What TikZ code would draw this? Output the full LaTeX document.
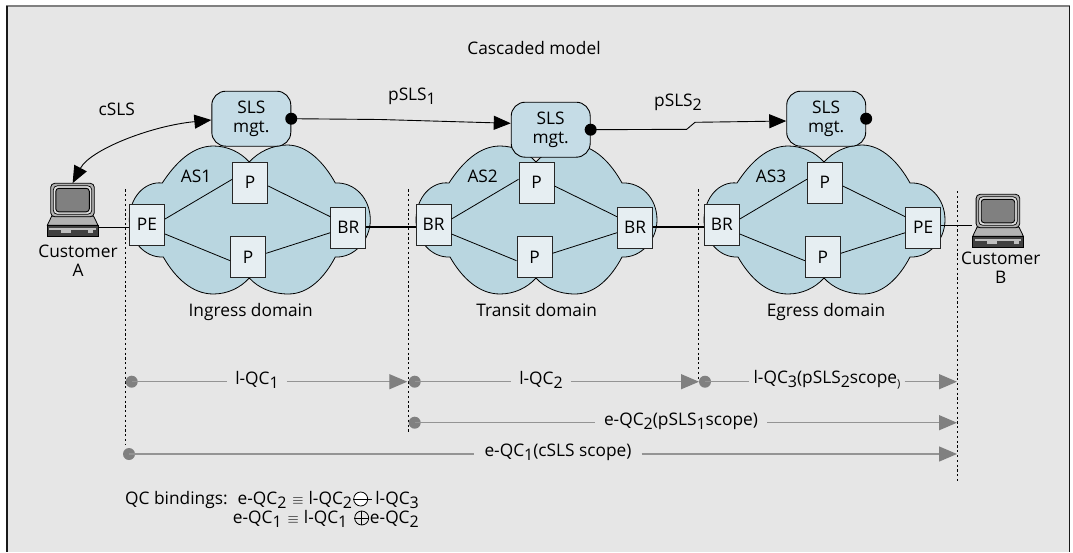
\documentclass[tikz,border=0pt]{standalone}
\usepackage{fontspec}
\setmainfont{Open Sans}
\usetikzlibrary{arrows.meta,calc}
\definecolor{framefill}{HTML}{E6E6E6}
\definecolor{cloudfill}{HTML}{B9D6E0}
\definecolor{boxfill}{HTML}{E6EEF2}
\definecolor{slsfill}{HTML}{C5DCE6}
\definecolor{scopegray}{HTML}{808080}
\definecolor{scopeline}{HTML}{949494}
\newcommand{\sbs}[1]{\raisebox{-4pt}{\fontsize{16}{16}\selectfont #1}}
\newcommand{\eqv}{\hspace{6pt}\raisebox{0pt}{\fontsize{14}{14}\selectfont$\equiv$}\hspace{5pt}}
\tikzset{
  x=1pt,y=-1pt,
  every node/.style={font=\fontsize{17.3}{19}\selectfont,inner sep=0pt},
  router/.style={draw=black!85,line width=1pt,fill=boxfill,minimum width=35pt,minimum height=41pt},
  slsbox/.style={draw=black,line width=.9pt,fill=slsfill,rounded corners=14pt,minimum width=79pt,minimum height=55pt,align=center},
  blackdot/.style={circle,fill=black,minimum size=12pt},
  graydot/.style={circle,fill=scopegray,minimum size=12pt},
  thinlink/.style={draw=black,line width=.8pt},
  corelink/.style={draw=black,line width=2pt},
  signal/.style={draw=black,line width=.9pt,-{Triangle[length=17pt,width=14pt]}},
  scopeseg/.style={draw=scopeline,line width=1.3pt},
  scopearrow/.style={draw=scopeline,line width=1.3pt,-{Triangle[length=18pt,width=15pt,color=scopegray]}},
  boundary/.style={draw=black,line width=1pt,dash pattern=on 2.2pt off 2.6pt},
  opcircle/.style={circle,draw=black,line width=.8pt,fill=white,minimum size=14pt},
  cloudshape/.pic={
    \draw[fill=cloudfill,line width=.8pt] (0,162) .. controls (-9,152) and (-22,146) .. (-36,146)
      .. controls (-57,146) and (-74,163) .. (-87,183)
      .. controls (-105,181) and (-120,198) .. (-120,220)
      .. controls (-120,240) and (-105,258) .. (-86,257)
      .. controls (-74,278) and (-57,294) .. (-36,294)
      .. controls (-22,294) and (-9,288) .. (0,278)
      .. controls (9,288) and (23,294) .. (39,294)
      .. controls (59,294) and (75,278) .. (86,257)
      .. controls (105,258) and (121,240) .. (121,220)
      .. controls (121,198) and (105,182) .. (86,183)
      .. controls (75,163) and (58,145) .. (38,145)
      .. controls (23,145) and (9,152) .. (0,162) -- cycle;
  },
  computer/.pic={
    \draw[fill=black!30,line width=.8pt] (4.3,33) -- (46.4,33) -- (50.7,42) -- (0,42) -- cycle;
    \draw[fill=black!75,line width=.8pt] (0,42) rectangle (50.7,53.4);
    \fill[black!25] (2,45) rectangle (48.7,47);
    \fill[black!25] (14,47) rectangle (24,50);
    \fill[black!25] (41,47) rectangle (46,50);
    \draw[fill=black!30,line width=.8pt,rounded corners=4pt] (3.4,0) rectangle (47,33.4);
    \draw[fill=black!12,line width=.7pt,rounded corners=4pt] (6,2.5) rectangle (44.5,31);
    \draw[fill=black!50,line width=.9pt,rounded corners=3pt] (8.5,5) rectangle (42,28.5);
  }
}
\begin{document}
\begin{tikzpicture}
\useasboundingbox (0,0) rectangle (1073,552);
\fill[framefill] (7,6) rectangle (1069.5,552);
\draw[scopegray,line width=2.2pt] (6,6) -- (1070.3,6);
\draw[black!90,line width=1.5pt] (7,6) -- (7,552);
\draw[black!90,line width=1.5pt] (1069.5,6) -- (1069.5,552);

\node (title) at (534,48) {Cascaded model};

% clouds
\pic at (249.3,0) {cloudshape};
\pic at (536,0) {cloudshape};
\pic at (824,0) {cloudshape};

% routers
\node[router] (pe1) at (147,224.5) {PE};
\node[router] (pt1) at (250.2,182.8) {P};
\node[router] (pb1) at (248.2,257) {P};
\node[router] (br1) at (348.3,227.7) {BR};
\node[router] (br2) at (433.5,224.5) {BR};
\node[router] (pt2) at (536.5,182.8) {P};
\node[router] (pb2) at (534.5,257) {P};
\node[router] (br3) at (635,227.7) {BR};
\node[router] (br4) at (721.8,224.5) {BR};
\node[router] (pt3) at (824.8,182.8) {P};
\node[router] (pb3) at (822.8,257) {P};
\node[router] (pe2) at (923.2,227.7) {PE};

% internal links
\foreach \l/\t/\b/\r in {pe1/pt1/pb1/br1,br2/pt2/pb2/br3,br4/pt3/pb3/pe2}{
  \draw[thinlink] ([yshift=5.5pt]\l.east) -- ([yshift=3.5pt]\t.west);
  \draw[thinlink] ([yshift=-3.2pt]\t.east) -- ([yshift=11pt]\r.west);
  \draw[thinlink] ([yshift=-9.5pt]\l.east) -- ([yshift=-3.7pt]\b.west);
  \draw[thinlink] ([yshift=3.7pt]\b.east) -- ([yshift=-5pt]\r.west);
}

% boundaries
\coordinate (b1t) at (125.7,189.3); \coordinate (b1e) at (125.7,445);
\coordinate (b2t) at (408.3,189.3); \coordinate (b2e) at (408.3,431.7);
\coordinate (b3t) at (698.7,189.3); \coordinate (b3e) at (698.7,381);
\coordinate (b4t) at (957.3,191);   \coordinate (b4e) at (957.3,481.7);
\draw[boundary] (b1t) -- (b1e);
\draw[boundary] (b2t) -- (b2e);
\draw[boundary] (b3t) -- (b3e);
\draw[boundary] (b4t) -- (b4e);

% inter-domain links
\draw[corelink] ([yshift=.4pt]br1.east) -- ([yshift=-2.8pt]br2.west);
\draw[corelink] ([yshift=.4pt]br3.east) -- ([yshift=-2.8pt]br4.west);

% customers
\node[minimum width=50.7pt,minimum height=53.4pt] (compa) at (72.65,210) {};
\node[minimum width=50.7pt,minimum height=53.4pt] (compb) at (998,221) {};
\draw[thinlink] ([yshift=-17.7pt]compa.east) -- ([yshift=-3.2pt]pe1.west);
\draw[thinlink] ([yshift=2.7pt]pe2.east) -- ([yshift=-4pt]compb.west);
\pic at (47.3,183.3) {computer};
\pic at (972.7,194.3) {computer};
\node[align=center] (custa) at (78,261) {Customer\\A};
\node[align=center] (custb) at (1000.7,268) {Customer\\B};

% SLS
\node[slsbox] (s1) at (251.3,118.7) {SLS\\mgt.};
\node[slsbox] (s2) at (550.7,129.7) {SLS\\mgt.};
\node[slsbox] (s3) at (826.2,118.7) {SLS\\mgt.};
\node[blackdot] (d1) at (s1.east) {};
\node[blackdot] (d2) at (s2.east) {};
\node[blackdot] (d3) at (s3.east) {};
\coordinate (k1) at (380,119.5);
\coordinate (k2) at (686.7,129.3);
\coordinate (k3) at (695,122.3);
\draw[signal] (d1.center) -- (k1) -- ([yshift=6.4pt]s2.west);
\draw[signal] (d2.center) -- (k2) -- (k3) -- ([yshift=-2.3pt]s3.west);
\draw[draw=black,line width=.9pt,{Triangle[length=17pt,width=14pt]}-{Triangle[length=17pt,width=14pt]}]
  (compa.north) .. controls (90,150) and (150,126) .. ([yshift=-1.3pt]s1.west);

\node (csls) at (116.7,109) {cSLS};
\node (psls1) at (412,96) {pSLS\sbs{1}};
\node (psls2) at (678,102) {pSLS\sbs{2}};
\node (as1) at (196,176.7) {AS1};
\node (as2) at (482.7,176.7) {AS2};
\node (as3) at (771,176.7) {AS3};
\node[anchor=base] (dom1) at (250.7,316) {Ingress domain};
\node[anchor=base] (dom2) at (536.7,316) {Transit domain};
\node[anchor=base] (dom3) at (826,316) {Egress domain};

% scope rows
\node[graydot] (r1a) at (131.7,381.7) {};
\node[graydot] (r1b) at (414.7,381.7) {};
\node[graydot] (r1c) at (705,381.7) {};
\node[graydot] (r2a) at (414.7,422.7) {};
\node[graydot] (r3a) at (129,454) {};
\coordinate (t11) at (407.3,381.7);
\coordinate (t12) at (699,381.7);
\coordinate (t13) at (957,381.7);
\coordinate (t2) at (957,422.7);
\coordinate (t3) at (957,454);
\node[inner xsep=8pt] (q1) at (257,380) {l-QC\sbs{1}};
\node[inner xsep=8pt] (q2) at (541,380) {l-QC\sbs{2}};
\node[inner xsep=4pt] (q3) at (827,380) {l-QC\sbs{3}(pSLS\sbs{2}scope\sbs{\fontsize{11}{11}\selectfont )}};
\node[inner xsep=9pt] (q4) at (681,421) {e-QC\sbs{2}(pSLS\sbs{1}scope)};
\node[inner xsep=10pt] (q5) at (558,452) {e-QC\sbs{1}(cSLS scope)};
\draw[scopeseg] (r1a.center) -- (r1a.center -| q1.west);
\draw[scopearrow] (t11 -| q1.east) -- (t11);
\draw[scopeseg] (r1b.center) -- (r1b.center -| q2.west);
\draw[scopearrow] (t12 -| q2.east) -- (t12);
\draw[scopeseg] (r1c.center) -- (r1c.center -| q3.west);
\draw[scopearrow] (t13 -| q3.east) -- (t13);
\draw[scopeseg] (r2a.center) -- (r2a.center -| q4.west);
\draw[scopearrow] (t2 -| q4.east) -- (t2);
\draw[scopeseg] (r3a.center) -- (r3a.center -| q5.west);
\draw[scopearrow] (t3 -| q5.east) -- (t3);

% bindings
\node[anchor=base west] (bind1) at (125,504) {QC bindings:\hspace{4pt} e-QC\sbs{2}\eqv l-QC\sbs{2}};
\node[anchor=base east] (bind2) at (419,504) {l-QC\sbs{3}};
\node[anchor=base west] (bind3) at (232.7,523) {e-QC\sbs{1}\eqv l-QC\sbs{1}};
\node[anchor=base east] (bind4) at (419,523) {e-QC\sbs{2}};
\node[opcircle] (minus) at (360.7,499) {};
\node[opcircle,fill=framefill] (oplus) at (361.7,518) {};
\draw[line width=.8pt] (minus.west) -- ([xshift=4pt]minus.east);
\draw[line width=.8pt] (oplus.west) -- (oplus.east);
\draw[line width=.8pt] (oplus.north) -- (oplus.south);
\end{tikzpicture}
\end{document}
